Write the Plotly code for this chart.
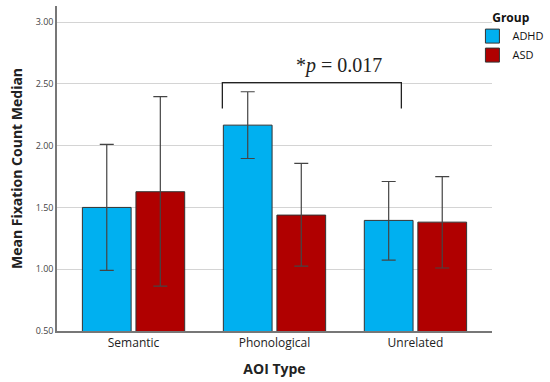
import plotly.graph_objects as go

categories = ["Semantic", "Phonological", "Unrelated"]
adhd_mean = [1.50, 2.166, 1.395]
adhd_upper = [2.01, 2.436, 1.71]
adhd_lower = [0.99, 1.896, 1.074]
asd_mean = [1.627, 1.438, 1.381]
asd_upper = [2.396, 1.856, 1.75]
asd_lower = [0.863, 1.025, 1.01]
y_ticks = [0.5, 1.0, 1.5, 2.0, 2.5, 3.0]
y_tick_labels = ["0.50", "1.00", "1.50", "2.00", "2.50", "3.00"]

fig = go.Figure()

def add_series(name, mean, upper, lower, color):
    fig.add_trace(go.Bar(
        name=name, x=list(range(len(categories))), y=mean, showlegend=False,
        marker=dict(color=color, line=dict(color="#333333", width=1)),
        error_y=dict(type="data", symmetric=False,
                     array=[u - m for u, m in zip(upper, mean)],
                     arrayminus=[m - l for m, l in zip(mean, lower)],
                     color="#444444", thickness=1.2, width=7),
    ))
    # legend entry with a square swatch
    fig.add_trace(go.Scatter(
        name=name, x=[None], y=[None], mode="markers",
        marker=dict(symbol="square", size=14, color=color,
                    line=dict(color="#333333", width=1)),
    ))

add_series("ADHD", adhd_mean, adhd_upper, adhd_lower, "#00B0F0")
add_series("ASD", asd_mean, asd_upper, asd_lower, "#B00000")

# significance bracket (Phonological ADHD vs Unrelated)
fig.add_shape(type="path", xref="x", yref="y",
              path="M 0.63,2.30 L 0.63,2.51 L 1.9,2.51 L 1.9,2.30",
              line=dict(color="#222222", width=1.3))
fig.add_annotation(x=1.46, y=2.51, xref="x", yref="y", yanchor="bottom",
                   text="*<i>p</i> = 0.017", showarrow=False, yshift=4,
                   font=dict(family="Liberation Serif, Times New Roman, serif", size=20, color="#222222"))

fig.update_layout(
    width=550, height=382,
    margin=dict(l=57, r=58, t=6, b=51, autoexpand=False),
    paper_bgcolor="white", plot_bgcolor="white",
    barmode="group", bargap=0.24, bargroupgap=0.09,
    font=dict(family="Open Sans, Noto Sans, sans-serif", color="#222222"),
    legend=dict(x=0.955, y=1.0, xanchor="left", yanchor="top",
                title=dict(text="<b>Group</b>", font=dict(size=12), side="top center"),
                font=dict(size=11, color="#111111"), tracegroupgap=0, itemwidth=30,
                bgcolor="rgba(0,0,0,0)"),
    xaxis=dict(tickmode="array", tickvals=list(range(len(categories))),
               ticktext=categories, range=[-0.543, 2.543],
               showline=True, linecolor="#777777", linewidth=1.5,
               ticks="", tickfont=dict(size=12, color="#222222"),
               title=dict(text="<b>AOI Type</b>", font=dict(size=14), standoff=14),
               showgrid=False, zeroline=False),
    yaxis=dict(range=[0.5, 3.13], tickmode="array", tickvals=y_ticks,
               ticktext=y_tick_labels, tickfont=dict(size=9, color="#444444"),
               showline=True, linecolor="#777777", linewidth=1.5,
               showgrid=True, gridcolor="#d4d4d4", gridwidth=1,
               ticks="", zeroline=False,
               title=dict(text="<b>Mean Fixation Count Median</b>", font=dict(size=14), standoff=10)),
)

fig.write_html("out.html", config={"displayModeBar": False},
               post_script="document.body.style.margin='0';")
